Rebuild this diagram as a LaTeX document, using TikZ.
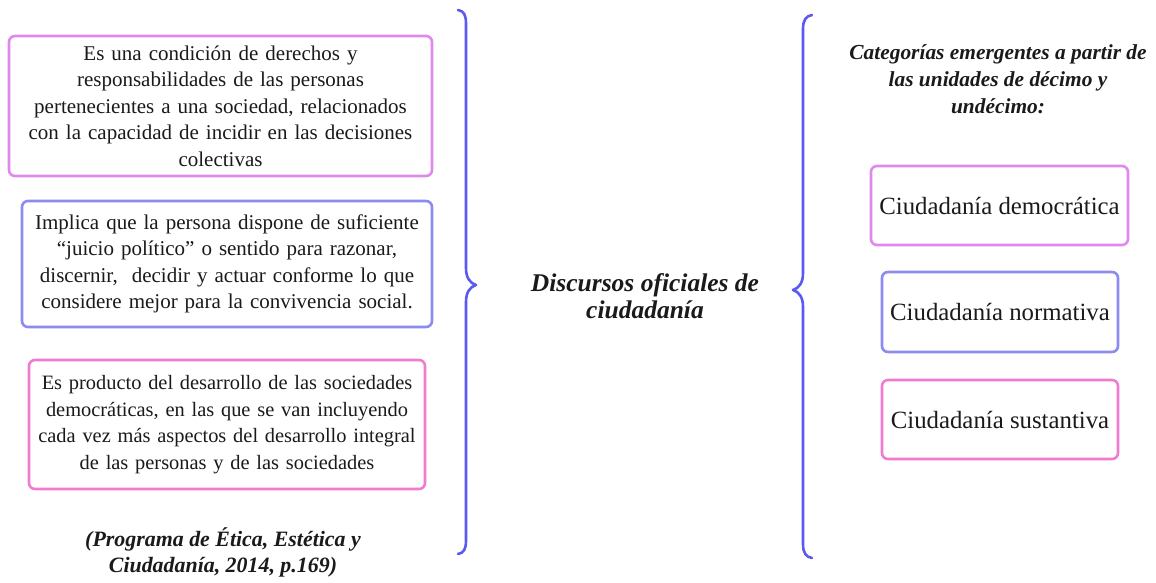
\documentclass[tikz,border=0pt]{standalone}
\usepackage{fontspec}
\setmainfont{Liberation Serif}
\definecolor{cviolet}{HTML}{E088EE}
\definecolor{cblue}{HTML}{8C8CF0}
\definecolor{cpink}{HTML}{F07CD0}
\definecolor{cbrace}{HTML}{5A5AF0}
\definecolor{ctext}{HTML}{1A1A1A}
\begin{document}
\begin{tikzpicture}[x=1pt,y=-1pt,
  textbox/.style={draw, line width=2.6pt, rounded corners=6pt, align=center, inner sep=0pt, text=ctext,
    font=\fontsize{21}{26.5}\selectfont},
  catbox/.style={draw, line width=2.6pt, rounded corners=6pt, align=center, inner sep=0pt, text=ctext,
    font=\fontsize{24.8}{27}\selectfont},
  title/.style={align=center, text=ctext, font=\fontsize{21.4}{27}\selectfont\bfseries\itshape},
  bracepath/.style={draw=cbrace, line width=2.6pt, line cap=round, line join=round}]
\useasboundingbox (0,0) rectangle (1156,583);
\fill[white] (0,0) rectangle (1156,583);

\node[textbox, draw=cviolet, minimum width=423pt, minimum height=140pt, text width=415pt] (b1) at (220.5,106)
 {Es una condición de derechos y\\responsabilidades de las personas\\pertenecientes a una sociedad, relacionados\\con la capacidad de incidir en las decisiones\\colectivas};
\node[textbox, draw=cblue, minimum width=410pt, minimum height=126pt, text width=404pt] (b2) at (227,264)
 {Implica que la persona dispone de suficiente\\“juicio político” o sentido para razonar,\\discernir,\ \ decidir y actuar conforme lo que\\considere mejor para la convivencia social.};
\node[textbox, draw=cpink, minimum width=396pt, minimum height=129pt, text width=390pt,
  font=\fontsize{20.4}{26.5}\selectfont] (b3) at (227,424.5)
 {Es producto del desarrollo de las sociedades\\democráticas, en las que se van incluyendo\\cada vez más aspectos del desarrollo integral\\de las personas y de las sociedades};

\node[title, font=\fontsize{21.9}{26}\selectfont\bfseries\itshape] (cite) at (223,552) {(Programa de Ética, Estética y\\Ciudadanía, 2014, p.169)};

\node[title, font=\fontsize{25.5}{27}\selectfont\bfseries\itshape] (center) at (645,296) {Discursos oficiales de\\ciudadanía};

\node[title] (head) at (998,79) {Categorías emergentes a partir de\\las unidades de décimo y\\undécimo:};

\node[catbox, draw=cviolet, minimum width=257pt, minimum height=79pt] (c1) at (999.5,205.5) {Ciudadanía democrática};
\node[catbox, draw=cblue, minimum width=236pt, minimum height=80pt] (c2) at (1000,312) {Ciudadanía normativa};
\node[catbox, draw=cpink, minimum width=236pt, minimum height=79pt] (c3) at (1000,419.5) {Ciudadanía sustantiva};

% left brace
\path[bracepath] (458,10) .. controls (464,11) and (466,15) .. (466,24)
  -- (466,268) .. controls (466,278) and (470,283) .. (476,285)
  .. controls (470,287) and (466,292) .. (466,302)
  -- (466,540) .. controls (466,549) and (464,553) .. (458,554);
% right brace
\path[bracepath] (812,15) .. controls (806,16) and (803,20) .. (803,29)
  -- (803,273) .. controls (803,283) and (799,288) .. (793,290)
  .. controls (799,292) and (803,297) .. (803,307)
  -- (803,544) .. controls (803,553) and (806,557) .. (812,558);
\end{tikzpicture}
\end{document}
